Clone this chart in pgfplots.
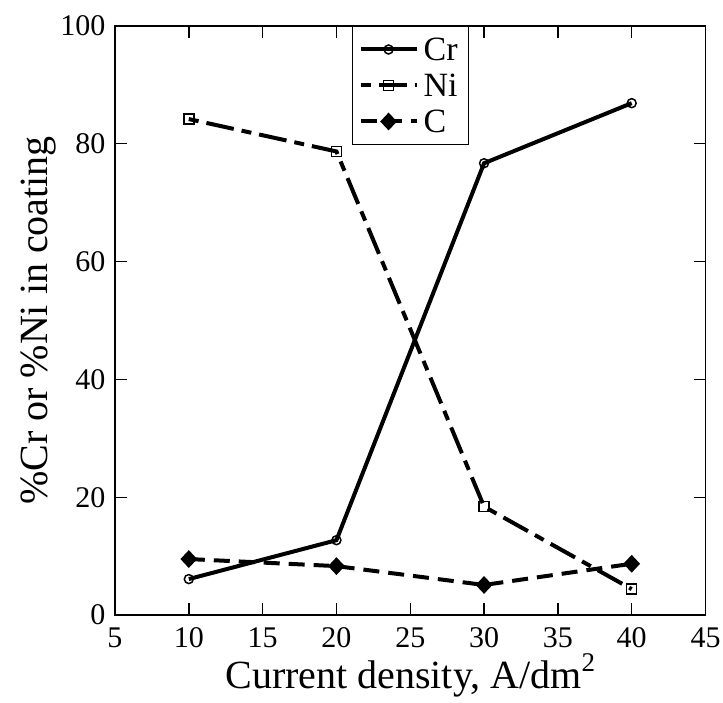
\documentclass[border=0pt]{standalone}
\usepackage{fontspec}
\setmainfont{Liberation Serif}
\usepackage{pgfplots}
\pgfplotsset{compat=1.18}
\begin{document}
\begin{tikzpicture}
\begin{axis}[
  name=ax,
  scale only axis,
  width=590.5pt, height=589pt,
  xmin=5, xmax=45, ymin=0, ymax=100,
  xtick={5,10,...,45}, ytick={0,20,...,100},
  tick align=inside,
  major tick length=12pt,
  axis line style={line width=1.6pt},
  every tick/.style={line width=1.4pt, black},
  /pgf/number format/assume math mode=true,
  tick label style={font=\fontsize{30}{34}\selectfont},
  xticklabel style={yshift=-9pt},
  yticklabel style={xshift=-6pt},
  label style={font=\fontsize{40}{44}\selectfont},
  xlabel={Current density, A/dm\raisebox{17pt}{\fontsize{27}{27}\selectfont 2}},
  ylabel={\%Cr or \%Ni in coating},
  xlabel style={at={(axis description cs:0.5,0)}, anchor=base, yshift=-73pt},
  ylabel style={at={(axis description cs:0,0.5)}, anchor=base, yshift=67pt},
  legend style={at={(0.4015,1)}, anchor=north west, draw=black, line width=1pt,
    font=\fontsize{34}{36}\selectfont, row sep=10pt, inner xsep=6pt, inner ysep=10pt,
    nodes={text height=22pt, text depth=0pt, inner ysep=2pt, inner xsep=5pt},
    cells={anchor=west}},
  legend image code/.code={
    \draw[mark repeat=2,mark phase=2] plot coordinates {(0pt,0pt)(28pt,0pt)(56pt,0pt)};
  },
]
\addplot[black, line width=4pt, mark=o, mark size=4.5pt, mark options={solid, fill=white, line width=1.5pt}]
  coordinates {(10,6.1) (20,12.7) (30,76.7) (40,86.9)};
\addlegendentry{Cr}
\addplot[black, line width=4pt, dash pattern=on 10pt off 8pt on 28pt off 8pt, mark=square, mark size=5pt, mark options={solid, fill=white, line width=1.5pt}]
  coordinates {(10,84.2) (20,78.7) (30,18.4) (40,4.4)};
\addlegendentry{Ni}
\addplot[black, line width=4pt, dash pattern=on 16pt off 9pt, mark=diamond*, mark size=6pt, mark options={solid, xscale=1.25}]
  coordinates {(10,9.5) (20,8.3) (30,5.1) (40,8.7)};
\addlegendentry{C}
\end{axis}
\pgfresetboundingbox
\path ([shift={(-115pt,-87pt)}]ax.south west) rectangle ([shift={(17.5pt,26pt)}]ax.north east);
\end{tikzpicture}
\end{document}
